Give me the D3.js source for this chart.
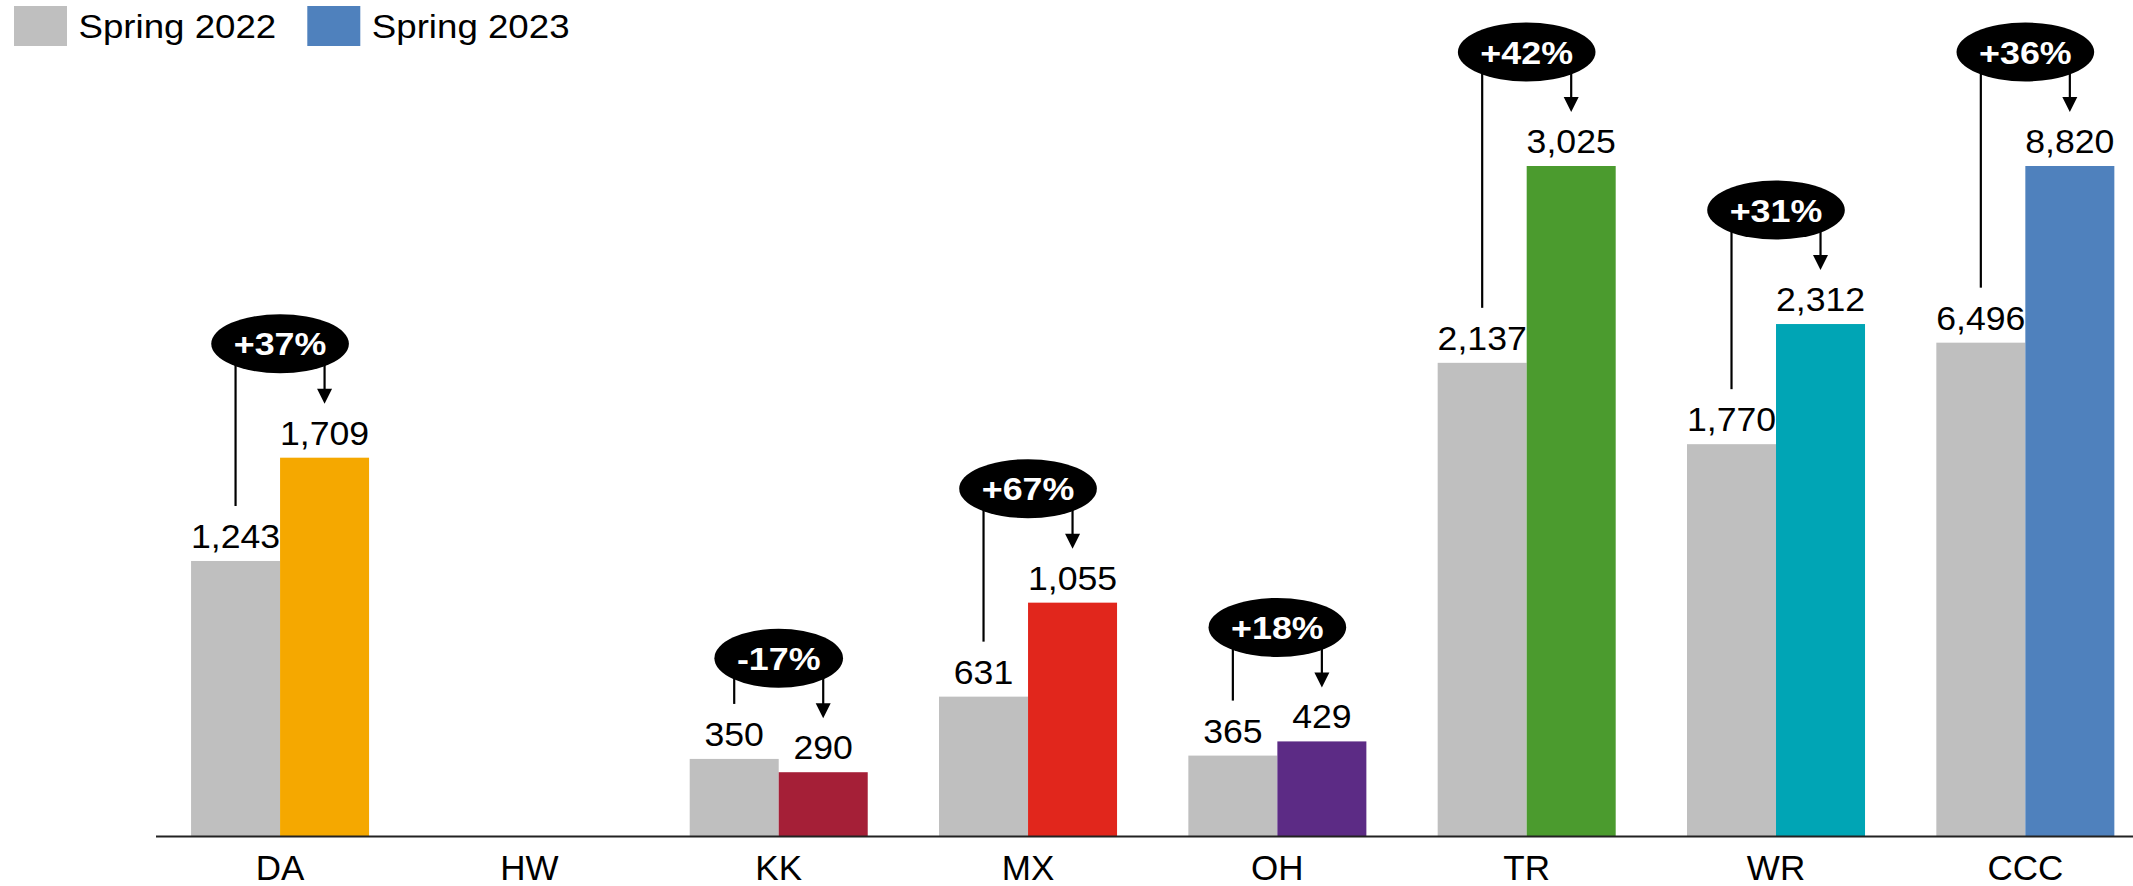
<!DOCTYPE html>
<html>
<head>
<meta charset="utf-8">
<script src="https://cdn.jsdelivr.net/npm/d3@7"></script>
<style>
  html, body { margin: 0; padding: 0; background: #fff; }
  svg { display: block; font-family: Arial, "Liberation Sans", sans-serif; }
</style>
</head>
<body>
<svg id="chart" width="2133" height="886"></svg>
<script>
// data
const colleges = ['DA', 'HW', 'KK', 'MX', 'OH', 'TR', 'WR', 'CCC'];
const spring2022 = [1243, null, 350, 631, 365, 2137, 1770, 6496];
const spring2023 = [1709, null, 290, 1055, 429, 3025, 2312, 8820];
const collegeColors = ['#F5A800', '#999999', '#A51F37', '#E1261C', '#5C2B85', '#4B9B2E', '#00A5B5', '#4F81BD'];
const legendLabels = ['Spring 2022', 'Spring 2023'];
const legendColors = ['#BFBFBF', '#4F81BD'];
// CCC is drawn on its own (secondary) scale
const secondaryCollege = 'CCC';

const width = 2133, height = 886;
const baseline = 836.5;
const plotTop = 166;

const svg = d3.select('#chart');

// text in the original is a bit wider than plain Arial, so stretch it
const stretch = (sel, fx, fy, sx) =>
  sel.attr('transform', d => `translate(${fx(d)},${fy(d)}) scale(${sx},1)`);

const x = d3.scaleBand()
  .domain(colleges)
  .range([155.4, 2150])
  .paddingInner(0.286)
  .paddingOuter(0.143);

const yMain = d3.scaleLinear()
  .domain([0, d3.max(spring2023.filter((v, i) => colleges[i] !== secondaryCollege))])
  .range([baseline, plotTop]);

const ySec = d3.scaleLinear()
  .domain([0, spring2023[colleges.indexOf(secondaryCollege)]])
  .range([baseline, plotTop]);

const fmt = d3.format(',');
const barW = x.bandwidth() / 2;

const rows = colleges.map((c, i) => ({
  college: c,
  prev: spring2022[i],
  curr: spring2023[i],
  color: collegeColors[i],
  y: c === secondaryCollege ? ySec : yMain
})).filter(d => d.prev != null && d.curr != null);

// bars
const g = svg.append('g');

g.selectAll('.bar-prev')
  .data(rows)
  .enter()
  .append('rect')
  .attr('class', 'bar-prev')
  .attr('x', d => x(d.college))
  .attr('y', d => d.y(d.prev))
  .attr('width', barW)
  .attr('height', d => baseline - d.y(d.prev))
  .attr('fill', legendColors[0]);

g.selectAll('.bar-curr')
  .data(rows)
  .enter()
  .append('rect')
  .attr('class', 'bar-curr')
  .attr('x', d => x(d.college) + barW)
  .attr('y', d => d.y(d.curr))
  .attr('width', barW)
  .attr('height', d => baseline - d.y(d.curr))
  .attr('fill', d => d.color);

// value labels
g.selectAll('.lbl-prev')
  .data(rows)
  .enter()
  .append('text')
  .attr('text-anchor', 'middle')
  .attr('font-size', 33)
  .attr('fill', '#000')
  .text(d => fmt(d.prev))
  .call(stretch, d => x(d.college) + barW / 2, d => d.y(d.prev) - 13, 1.08);

g.selectAll('.lbl-curr')
  .data(rows)
  .enter()
  .append('text')
  .attr('text-anchor', 'middle')
  .attr('font-size', 33)
  .attr('fill', '#000')
  .text(d => fmt(d.curr))
  .call(stretch, d => x(d.college) + barW * 1.5, d => d.y(d.curr) - 13, 1.08);

// change callouts
const callouts = g.selectAll('.callout')
  .data(rows)
  .enter()
  .append('g')
  .attr('class', 'callout');

// left connector
callouts.append('line')
  .attr('x1', d => x(d.college) + barW / 2)
  .attr('x2', d => x(d.college) + barW / 2)
  .attr('y1', d => d.y(d.curr) - 114)
  .attr('y2', d => d.y(d.prev) - 55)
  .attr('stroke', '#000')
  .attr('stroke-width', 2.2);

// right arrow
callouts.append('line')
  .attr('x1', d => x(d.college) + barW * 1.5)
  .attr('x2', d => x(d.college) + barW * 1.5)
  .attr('y1', d => d.y(d.curr) - 114)
  .attr('y2', d => d.y(d.curr) - 66)
  .attr('stroke', '#000')
  .attr('stroke-width', 2.2);

callouts.append('path')
  .attr('d', d => {
    const cx = x(d.college) + barW * 1.5;
    const tip = d.y(d.curr) - 54;
    return `M${cx - 7.5},${tip - 15}L${cx + 7.5},${tip - 15}L${cx},${tip}Z`;
  })
  .attr('fill', '#000');

const pctText = d => {
  const p = Math.round((d.curr / d.prev - 1) * 100);
  return (p > 0 ? '+' : '') + p + '%';
};

const pctStretch = 1.12;

const ellipses = callouts.append('ellipse')
  .attr('cx', d => x(d.college) + barW)
  .attr('cy', d => d.y(d.curr) - 114)
  .attr('ry', 29.5)
  .attr('fill', '#000');

const pcts = callouts.append('text')
  .attr('text-anchor', 'middle')
  .attr('font-size', 32)
  .attr('font-weight', 'bold')
  .attr('fill', '#fff')
  .text(pctText)
  .call(stretch, d => x(d.college) + barW, d => d.y(d.curr) - 114 + 11.5, pctStretch);

pcts.each(function(d) {
  d.tw = this.getComputedTextLength() * pctStretch;
});
ellipses.attr('rx', d => d.tw / 2 + 22.5);

// axis
const axis = svg.append('g')
  .attr('transform', `translate(0,${baseline})`)
  .call(d3.axisBottom(x).tickSize(0).tickPadding(0));
axis.select('.domain')
  .attr('d', `M156,0H${width}`)
  .attr('stroke', '#222')
  .attr('stroke-width', 2);
axis.selectAll('.tick text')
  .attr('font-family', 'Arial, "Liberation Sans", sans-serif')
  .attr('font-size', 35)
  .attr('fill', '#000')
  .attr('dy', null)
  .attr('y', 43);

// legend
const legend = svg.append('g')
  .selectAll('g')
  .data(legendLabels)
  .enter()
  .append('g')
  .attr('transform', (d, i) => `translate(${14 + i * 293.3},6)`);

legend.append('rect')
  .attr('width', 53)
  .attr('height', 40)
  .attr('fill', (d, i) => legendColors[i]);

legend.append('text')
  .attr('font-size', 33.5)
  .attr('fill', '#000')
  .text(d => d)
  .call(stretch, () => 64.5, () => 31.5, 1.095);
</script>
</body>
</html>
